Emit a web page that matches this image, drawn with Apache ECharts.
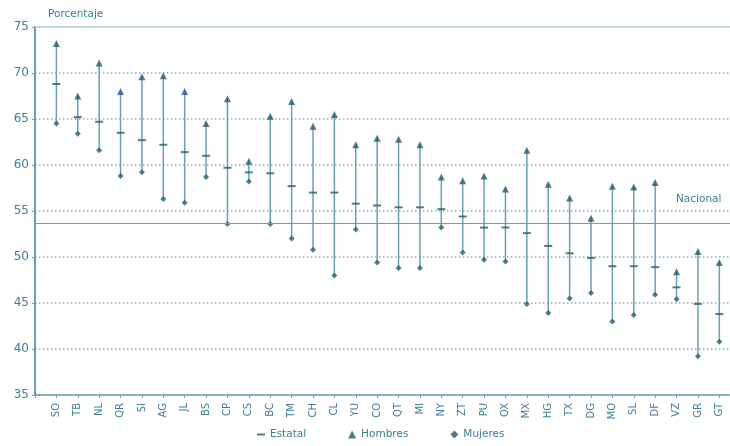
<!DOCTYPE html>
<html><head><meta charset="utf-8">
<script src="https://cdn.jsdelivr.net/npm/echarts@6/dist/echarts.min.js"></script>
<style>html,body{margin:0;padding:0;background:#fff}#c{width:730px;height:446px}</style>
</head><body><div id="c"></div>
<script>
var categories = ['SO','TB','NL','QR','SI','AG','JL','BS','CP','CS','BC','TM','CH','CL','YU','CO','QT','MI','NY','ZT','PU','OX','MX','HG','TX','DG','MO','SL','DF','VZ','GR','GT'];
var estatal = [68.8,65.2,64.7,63.5,62.7,62.2,61.4,61.0,59.7,59.2,59.1,57.7,57.0,57.0,55.8,55.6,55.4,55.4,55.2,54.4,53.2,53.2,52.6,51.2,50.4,49.9,49.0,49.0,48.9,46.7,44.9,43.8];
var hombres = [73.2,67.5,71.1,68.0,69.6,69.7,68.0,64.5,67.2,60.4,65.3,66.9,64.2,65.5,62.2,62.9,62.8,62.2,58.7,58.3,58.8,57.4,61.6,57.9,56.4,54.2,57.7,57.6,58.1,48.4,50.6,49.4];
var mujeres = [64.5,63.4,61.6,58.8,59.2,56.3,55.9,58.7,53.6,58.2,53.6,52.0,50.8,48.0,53.0,49.4,48.8,48.8,53.2,50.5,49.7,49.5,44.9,43.9,45.5,46.1,43.0,43.7,45.9,45.4,39.2,40.8];
var nacional = 53.7;
var yTicks = [35,40,45,50,55,60,65,70,75];

var FONT = 'DejaVu Sans';
var TXT = '#3d7f98';
var MARK = '#1f5f72';
var LINE = '#6aa0b3';

function pairs(arr){ return arr.map(function(v,i){ return [i, v]; }); }
var ranges = categories.map(function(c,i){ return [i, hombres[i], mujeres[i]]; });

var chart = echarts.init(document.getElementById('c'));
chart.setOption({
  animation:false,
  textStyle:{fontFamily:FONT},
  grid:{left:35,right:0,top:27,bottom:51},
  legend:{
    bottom:1, left:252, itemGap:42, itemWidth:8, itemHeight:8,
    textStyle:{color:TXT,fontSize:10.5,fontFamily:FONT},
    data:[
      {name:'Estatal', icon:'path://M0,0 L8,0 L8,2 L0,2 Z', itemStyle:{color:MARK}},
      {name:'Hombres', icon:'triangle', itemStyle:{color:MARK}},
      {name:'Mujeres', icon:'diamond', itemStyle:{color:MARK}}
    ]
  },
  xAxis:{
    type:'value', min:-1, max:31.5, interval:1,
    axisLine:{onZero:false,lineStyle:{color:LINE,width:1.5}},
    axisTick:{show:true,length:3,lineStyle:{color:LINE}},
    splitLine:{show:false},
    axisLabel:{rotate:90,color:TXT,fontSize:10,fontFamily:FONT,margin:8,showMinLabel:true,showMaxLabel:true,
      formatter:function(v){ return (v>=0 && Number.isInteger(v)) ? categories[v] : ''; }}
  },
  yAxis:{
    type:'value', min:yTicks[0], max:yTicks[yTicks.length-1], interval:5,
    axisLine:{show:true,onZero:false,lineStyle:{color:LINE,width:2}},
    axisTick:{show:true,length:3,lineStyle:{color:LINE}},
    axisLabel:{color:TXT,fontSize:12,margin:6,fontFamily:FONT},
    splitLine:{show:true,lineStyle:{color:'#85afbf',type:[1.5,2.5],width:1.5}}
  },
  series:[
    {
      type:'custom', name:'range', silent:true, z:2,
      data:ranges,
      renderItem:function(params, api){
        var p1 = api.coord([api.value(0), api.value(1)]);
        var p2 = api.coord([api.value(0), api.value(2)]);
        return {type:'line', shape:{x1:p1[0],y1:p1[1],x2:p2[0],y2:p2[1]}, style:{stroke:LINE,lineWidth:1.5}};
      },
      encode:{x:0,y:[1,2]},
      markLine:{
        silent:true, symbol:'none', label:{show:false},
        data:[
          {yAxis:nacional, lineStyle:{color:'#6aa0b3',type:'solid',width:1.2}},
          {yAxis:75, lineStyle:{color:'#b3d0da',type:'solid',width:1.5}}
        ]
      }
    },
    {type:'scatter', name:'Estatal', data:pairs(estatal), symbol:'rect', symbolSize:[8,2], itemStyle:{color:MARK}, z:4},
    {type:'scatter', name:'Hombres', data:pairs(hombres), symbol:'triangle', symbolSize:7, itemStyle:{color:MARK}, z:4},
    {type:'scatter', name:'Mujeres', data:pairs(mujeres), symbol:'diamond', symbolSize:6, itemStyle:{color:MARK}, z:4}
  ],
  graphic:[
    {type:'text', left:48, top:9, style:{text:'Porcentaje', fill:TXT, font:'10.5px "DejaVu Sans"'}},
    {type:'text', left:676, top:194, style:{text:'Nacional', fill:TXT, font:'10.5px "DejaVu Sans"'}}
  ]
});
</script></body></html>
